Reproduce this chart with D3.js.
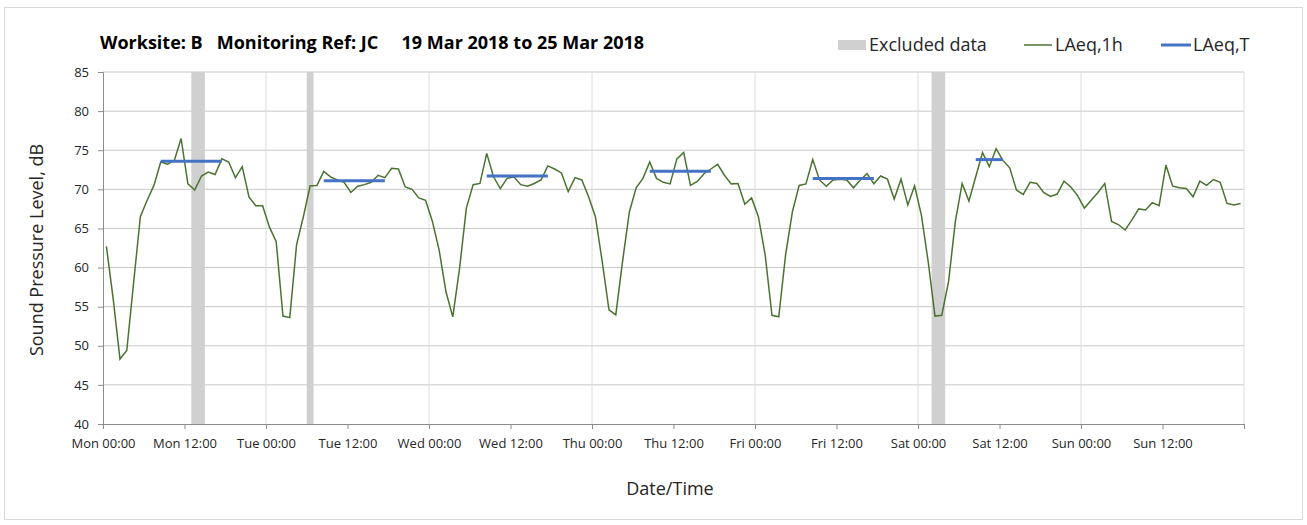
<!DOCTYPE html>
<html>
<head>
<meta charset="utf-8">
<script src="https://cdn.jsdelivr.net/npm/d3@7"></script>
<style>
    body { margin: 0; background: #fff; }
    text { font-family: "Open Sans", sans-serif; }
</style>
</head>
<body>
<svg id="chart" width="1307" height="525"></svg>
<script>
// hourly LAeq,1h values starting Mon 19 Mar 2018 00:00
const startTime = Date.UTC(2018, 2, 19);
const laeq1h = [
    62.7, 56.0, 48.3, 49.4, 58.0, 66.5, 68.6, 70.5, 73.5, 73.2, 73.7, 76.5,
    70.7, 69.9, 71.7, 72.2, 71.9, 73.9, 73.5, 71.5, 72.9, 69.0, 67.9, 67.9,
    65.2, 63.3, 53.8, 53.6, 62.9, 66.5, 70.45, 70.5, 72.3, 71.6, 71.2, 70.9,
    69.6, 70.4, 70.6, 70.9, 71.8, 71.5, 72.7, 72.6, 70.3, 70.0, 68.9, 68.6,
    65.9, 62.2, 56.9, 53.7, 59.9, 67.6, 70.6, 70.75, 74.6, 71.6, 70.1, 71.4,
    71.6, 70.6, 70.4, 70.75, 71.2, 73.0, 72.6, 72.1, 69.7, 71.5, 71.2, 69.05,
    66.5, 60.8, 54.6, 53.95, 60.8, 67.1, 70.2, 71.4, 73.5, 71.4, 70.9, 70.7,
    73.9, 74.7, 70.5, 71.0, 72.0, 72.6, 73.2, 71.8, 70.7, 70.75, 68.1, 68.9,
    66.5, 61.6, 53.9, 53.7, 61.6, 67.1, 70.5, 70.7, 73.8, 71.2, 70.4, 71.2,
    71.3, 71.2, 70.2, 71.2, 72.0, 70.7, 71.7, 71.3, 68.75, 71.3, 68.0, 70.45,
    66.7, 60.75, 53.8, 53.9, 58.2, 65.9, 70.75, 68.5, 71.6, 74.7, 72.9, 75.2,
    73.7, 72.75, 69.9, 69.35, 70.9, 70.75, 69.6, 69.1, 69.4, 71.05, 70.3, 69.2,
    67.6, 68.6, 69.6, 70.75, 65.9, 65.5, 64.8, 66.1, 67.5, 67.35, 68.3, 67.9,
    73.1, 70.4, 70.2, 70.1, 69.05, 71.05, 70.5, 71.25, 70.9, 68.2, 68.0, 68.2
];

// LAeq,T periods (hour index from start, inclusive)
const periodStart = [8, 32, 56, 80, 104, 128];
const periodEnd = [17, 41, 65, 89, 113, 132];
const periodLevel = [73.6, 71.1, 71.7, 72.3, 71.4, 73.8];

// excluded data windows (hours from start)
const excludedStart = [13, 30, 122];
const excludedEnd = [15, 31, 124];

const yTicks = [40, 45, 50, 55, 60, 65, 70, 75, 80, 85];
const title = "Worksite: B   Monitoring Ref: JC     19 Mar 2018 to 25 Mar 2018";
const legendLabels = ["Excluded data", "LAeq,1h", "LAeq,T"];

const hour = 3600 * 1000;
const margin = { top: 72, right: 63, bottom: 101, left: 103 };
const width = 1307, height = 525;

const svg = d3.select("#chart");

svg.append("rect")
    .attr("x", 4.5).attr("y", 7.5)
    .attr("width", 1298).attr("height", 512)
    .attr("fill", "#fff")
    .attr("stroke", "#d9d9d9");

const x = d3.scaleUtc()
    .domain([new Date(startTime), new Date(startTime + 168 * hour)])
    .range([margin.left, width - margin.right]);

const y = d3.scaleLinear()
    .domain([40, 85])
    .range([height - margin.bottom, margin.top]);

// horizontal gridlines
svg.append("g")
    .selectAll("line")
    .data(yTicks.slice(1))
    .join("line")
    .attr("x1", margin.left).attr("x2", width - margin.right)
    .attr("y1", d => y(d)).attr("y2", d => y(d))
    .attr("stroke", "#c9c9c9")
    .attr("stroke-width", 1);

// vertical day gridlines
svg.append("g")
    .selectAll("line")
    .data(d3.utcDay.range(new Date(startTime + hour), x.domain()[1]).concat([x.domain()[1]]))
    .join("line")
    .attr("x1", d => x(d)).attr("x2", d => x(d))
    .attr("y1", margin.top).attr("y2", height - margin.bottom)
    .attr("stroke", "#dcdcdc")
    .attr("stroke-width", 1);

// excluded bands
const bands = excludedStart.map((s, i) => [s, excludedEnd[i]]);
svg.append("g")
    .selectAll("rect")
    .data(bands)
    .join("rect")
    .attr("x", d => x(new Date(startTime + d[0] * hour)))
    .attr("width", d => x(new Date(startTime + d[1] * hour)) - x(new Date(startTime + d[0] * hour)))
    .attr("y", margin.top)
    .attr("height", height - margin.bottom - margin.top)
    .attr("fill", "#d0d0d0");

// axes
const xAxis = svg.append("g")
    .attr("transform", `translate(0,${height - margin.bottom})`)
    .call(d3.axisBottom(x)
        .ticks(d3.utcHour.every(12))
        .tickSize(5)
        .tickFormat(d => d.getTime() >= x.domain()[1].getTime() ? "" : d3.utcFormat("%a %H:%M")(d)));

const yAxis = svg.append("g")
    .attr("transform", `translate(${margin.left},0)`)
    .call(d3.axisLeft(y).tickValues(yTicks).tickSize(5).tickPadding(9));

[xAxis, yAxis].forEach(g => {
    g.select(".domain").attr("stroke", "#8c8c8c");
    g.selectAll(".tick line").attr("stroke", "#8c8c8c");
    g.selectAll(".tick text")
        .attr("fill", "#262626")
        .style("font-size", "13px");
});
xAxis.selectAll(".tick text").attr("dy", "1.25em");

// LAeq,1h line
const line = d3.line()
    .x((d, i) => x(new Date(startTime + (i + 0.5) * hour)))
    .y(d => y(d));

svg.append("path")
    .datum(laeq1h)
    .attr("d", line)
    .attr("fill", "none")
    .attr("stroke", "#4a7330")
    .attr("stroke-width", 1.5);

// LAeq,T period lines
svg.append("g")
    .selectAll("line")
    .data(periodLevel)
    .join("line")
    .attr("x1", (d, i) => x(new Date(startTime + (periodStart[i] + 0.5) * hour)))
    .attr("x2", (d, i) => x(new Date(startTime + (periodEnd[i] + 0.5) * hour)))
    .attr("y1", d => y(d)).attr("y2", d => y(d))
    .attr("stroke", "#4472c4")
    .attr("stroke-width", 3);

// title
svg.append("text")
    .attr("x", 100).attr("y", 49)
    .style("font-size", "18px")
    .style("font-weight", "bold")
    .style("white-space", "pre")
    .attr("fill", "#000")
    .text(title);

// axis titles
svg.append("text")
    .attr("transform", "translate(43,250) rotate(-90)")
    .style("text-anchor", "middle")
    .style("font-size", "18px")
    .attr("fill", "#262626")
    .text("Sound Pressure Level, dB");

svg.append("text")
    .attr("x", 670).attr("y", 495)
    .style("text-anchor", "middle")
    .style("font-size", "18px")
    .attr("fill", "#262626")
    .text("Date/Time");

// legend
const legend = svg.append("g").attr("transform", "translate(0,45)");
legend.append("rect")
    .attr("x", 838).attr("y", -5)
    .attr("width", 28).attr("height", 10)
    .attr("fill", "#d0d0d0");
legend.append("line")
    .attr("x1", 1024).attr("x2", 1052)
    .attr("stroke", "#4a7330").attr("stroke-width", 1.5);
legend.append("line")
    .attr("x1", 1161).attr("x2", 1191)
    .attr("stroke", "#4472c4").attr("stroke-width", 3);
legend.selectAll("text")
    .data(legendLabels)
    .join("text")
    .attr("x", (d, i) => [869, 1055, 1193][i])
    .attr("y", 6)
    .style("font-size", "18px")
    .attr("fill", "#262626")
    .text(d => d);
</script>
</body>
</html>
